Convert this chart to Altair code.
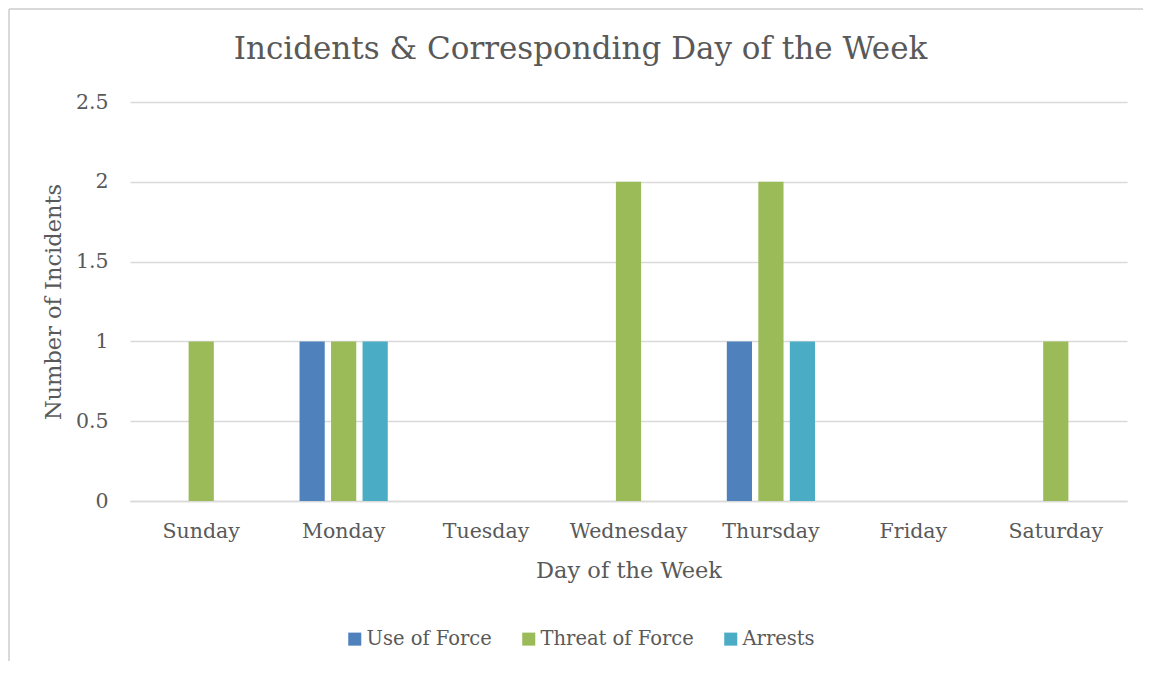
import altair as alt
import pandas as pd

days = ["Sunday", "Monday", "Tuesday", "Wednesday", "Thursday", "Friday", "Saturday"]
series = ["Use of Force", "Threat of Force", "Arrests"]
colors = ["#4F81BD", "#9BBB59", "#4BACC6"]

use_of_force = [0, 1, 0, 0, 1, 0, 0]
threat_of_force = [1, 1, 0, 2, 2, 0, 1]
arrests = [0, 1, 0, 0, 1, 0, 0]

y_ticks = [0, 0.5, 1, 1.5, 2, 2.5]

rows = []
for s, vals in zip(series, [use_of_force, threat_of_force, arrests]):
    for d, v in zip(days, vals):
        rows.append({"day": d, "series": s, "value": v})
df = pd.DataFrame(rows)

FONT = "DejaVu Serif"
TXT = "#595959"
GRID = "#D9D9D9"

bars = alt.Chart(df).mark_bar().encode(
    x=alt.X(
        "day:N",
        sort=days,
        scale=alt.Scale(paddingInner=0, paddingOuter=0),
        axis=alt.Axis(
            title="Day of the Week",
            labelAngle=0,
            ticks=False,
            domain=True,
            domainColor=GRID,
            domainWidth=1.5,
            labelPadding=20,
            titlePadding=18,
            labelFontSize=20.5,
            titleFontSize=22.5,
        ),
    ),
    xOffset=alt.XOffset(
        "series:N",
        sort=series,
        scale=alt.Scale(paddingInner=0.2, paddingOuter=0.86),
    ),
    y=alt.Y(
        "value:Q",
        scale=alt.Scale(domain=[0, 2.5], nice=False),
        axis=alt.Axis(
            title="Number of Incidents",
            values=y_ticks,
            format="~g",
            ticks=False,
            domain=False,
            grid=True,
            gridColor=GRID,
            gridWidth=1.5,
            labelPadding=22,
            titlePadding=10,
            labelFontSize=20.5,
            titleFontSize=22.5,
        ),
    ),
    color=alt.Color(
        "series:N",
        sort=series,
        scale=alt.Scale(domain=series, range=colors),
        legend=alt.Legend(
            title=None,
            orient="none",
            direction="horizontal",
            legendX=215,
            legendY=527,
            symbolType="square",
            symbolSize=170,
            symbolStrokeWidth=0,
            labelFontSize=19.5,
            labelOffset=2,
            columnPadding=27,
        ),
    ),
)

frame_df = pd.DataFrame({"k": [0]})
left_edge = alt.Chart(frame_df).mark_rule(stroke=GRID, strokeWidth=2).encode(
    x=alt.value(-121), y=alt.value(-93), y2=alt.value(559)
)
top_edge = alt.Chart(frame_df).mark_rule(stroke=GRID, strokeWidth=2).encode(
    x=alt.value(-121), x2=alt.value(1013), y=alt.value(-93)
)

chart = alt.layer(left_edge, top_edge, bars).properties(
    width=997,
    height=399,
    padding={"left": 122, "top": 94, "right": 16, "bottom": 160},
    autosize=alt.AutoSizeParams(type="none"),
    title=alt.TitleParams(
        text="Incidents & Corresponding Day of the Week",
        font=FONT,
        fontSize=31,
        fontWeight="normal",
        color=TXT,
        anchor="middle",
        frame="group",
        dx=-48,
        baseline="alphabetic",
        offset=-82,
    ),
).configure_view(stroke=None).configure_axis(
    labelFont=FONT, titleFont=FONT, labelColor=TXT, titleColor=TXT, titleFontWeight="normal"
).configure_legend(labelFont=FONT, labelColor=TXT)

chart.save("out.html", embed_options={"renderer": "svg", "actions": False})
